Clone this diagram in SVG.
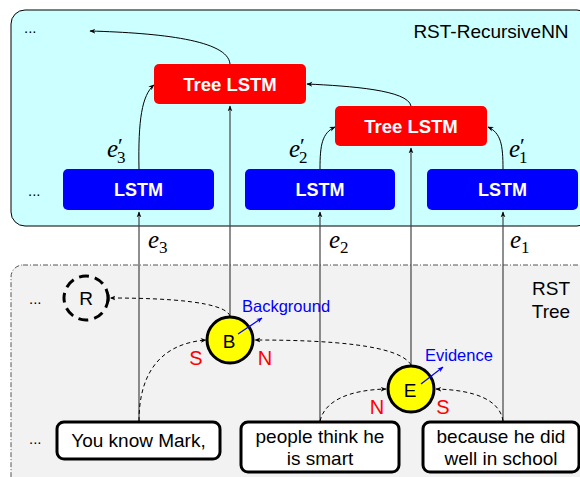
<svg xmlns="http://www.w3.org/2000/svg" width="580" height="477" viewBox="0 0 580 477">
<defs>
<marker id="ah" viewBox="0 0 10 10" refX="9" refY="5" markerWidth="6" markerHeight="6" orient="auto-start-reverse" markerUnits="userSpaceOnUse"><path d="M0,1 L10,5 L0,9 L3,5 Z" fill="#000"/></marker>
<marker id="ahb" viewBox="0 0 10 10" refX="9" refY="5" markerWidth="6" markerHeight="6" orient="auto" markerUnits="userSpaceOnUse"><path d="M0,1 L10,5 L0,9 L3,5 Z" fill="#0000ff"/></marker>
<marker id="aht" viewBox="0 0 10 12" refX="9" refY="6" markerWidth="6" markerHeight="8" orient="auto" markerUnits="userSpaceOnUse"><path d="M0,2 L9,6 L0,10 L3,6 Z M9,0 L10,0 L10,12 L9,12 Z" fill="#000"/></marker>
</defs>
<style>
.lstm{fill:#0000ff}
.tree{fill:#ff0000}
.wt{fill:#fff;font-family:"Liberation Sans",Arial,sans-serif;font-weight:bold;font-size:18px;text-anchor:middle}
.wt2{fill:#fff;font-family:"Liberation Sans",Arial,sans-serif;font-weight:bold;font-size:18.5px;text-anchor:middle}
.lbl{font-family:"Liberation Sans",Arial,sans-serif;font-size:19px;fill:#000;text-anchor:middle}
.edu{fill:#fff;stroke:#000;stroke-width:3}
.conn{fill:none;stroke:#000;stroke-width:1}
.vl{fill:none;stroke:#444;stroke-width:1.2}
.dash{fill:none;stroke:#000;stroke-width:1;stroke-dasharray:4,3}
.math{font-family:"Liberation Serif","DejaVu Serif",serif;font-style:italic;font-size:25px;fill:#000}
.sub{font-style:normal;font-size:17px}
.pr{font-style:normal;font-size:22px}
.red{font-family:"Liberation Sans",Arial,sans-serif;font-size:20px;fill:#ff0000;text-anchor:middle}
.blue{font-family:"Liberation Sans",Arial,sans-serif;font-size:16.5px;fill:#0000ff}
.dots{font-family:"Liberation Sans",Arial,sans-serif;font-size:15px;fill:#000}
</style>

<g id="panel-rnn">
<rect x="11" y="10" width="580" height="216" rx="14" fill="#ccffff" stroke="#000" stroke-width="1"/>
<text x="491" y="38" class="lbl">RST-RecursiveNN</text>
<text x="24" y="33" class="dots">...</text>
<text x="28" y="196" class="dots">...</text>
</g>

<g id="panel-rst">
<rect x="11" y="265" width="590" height="240" rx="12" fill="#f2f2f2" stroke="#555" stroke-width="1" stroke-dasharray="5,2,1,2"/>
<text x="551" y="295" class="lbl">RST</text>
<text x="551" y="318" class="lbl">Tree</text>
<text x="29" y="304" class="dots">...</text>
<text x="29" y="444" class="dots">...</text>
</g>

<g id="connectors">
<path class="vl" d="M139,422 V212" marker-end="url(#ah)"/>
<path class="vl" d="M320,422 V212" marker-end="url(#ah)"/>
<path class="vl" d="M503,422 V212" marker-end="url(#ah)"/>
<path class="vl" d="M230,316 V106" marker-end="url(#ah)"/>
<path class="vl" d="M411,365 V148" marker-end="url(#ah)"/>
<path class="conn" d="M139,169 C138,120 142,95 154,85" marker-end="url(#ah)"/>
<path class="conn" d="M320,169 C320,145 322,133 335,127" marker-end="url(#ah)"/>
<path class="conn" d="M503,169 C503,145 501,133 488,127" marker-end="url(#ah)"/>
<path class="conn" d="M230,64 C228,40 160,33 90,31" marker-end="url(#ah)"/>
<path class="conn" d="M411,106 C408,90 350,86 307,84" marker-end="url(#ah)"/>
<path class="dash" d="M230,316 C225,302 170,298 110,298" marker-end="url(#aht)"/>
<path class="dash" d="M411,365 C400,345 330,340 255,340" marker-end="url(#ah)"/>
<path class="dash" d="M139,421 C139,380 155,344 206,340" marker-end="url(#ah)"/>
<path class="dash" d="M320,421 C325,400 350,390 386,389" marker-end="url(#ah)"/>
<path class="dash" d="M503,421 C500,400 475,390 436,389" marker-end="url(#ah)"/>
<text x="107" y="157" class="math">e<tspan class="pr" dx="0" dy="-4">′</tspan><tspan class="sub" dx="-6" dy="10">3</tspan></text>
<text x="289" y="157" class="math">e<tspan class="pr" dx="0" dy="-4">′</tspan><tspan class="sub" dx="-6" dy="10">2</tspan></text>
<text x="509" y="157" class="math">e<tspan class="pr" dx="0" dy="-4">′</tspan><tspan class="sub" dx="-6" dy="10">1</tspan></text>
<text x="148" y="248" class="math">e<tspan class="sub" dy="5">3</tspan></text>
<text x="329" y="248" class="math">e<tspan class="sub" dy="5">2</tspan></text>
<text x="510" y="248" class="math">e<tspan class="sub" dy="5">1</tspan></text>
</g>

<g id="lstm1"><rect x="63" y="169" width="151" height="41" rx="5" class="lstm"/><text x="138.5" y="196" class="wt">LSTM</text></g>
<g id="lstm2"><rect x="245" y="169" width="150" height="41" rx="5" class="lstm"/><text x="320" y="196" class="wt">LSTM</text></g>
<g id="lstm3"><rect x="427" y="169" width="151" height="41" rx="5" class="lstm"/><text x="502.5" y="196" class="wt">LSTM</text></g>
<g id="treelstm1"><rect x="154" y="64" width="152" height="40" rx="5" class="tree"/><text x="230" y="91" class="wt2">Tree LSTM</text></g>
<g id="treelstm2"><rect x="335" y="106" width="152" height="40" rx="5" class="tree"/><text x="411" y="133" class="wt2">Tree LSTM</text></g>

<g id="nodeR">
<circle cx="86" cy="298" r="22" fill="none" stroke="#000" stroke-width="3" stroke-dasharray="10,6"/>
<text x="86" y="305" class="lbl">R</text>
</g>
<g id="nodeB">
<circle cx="230" cy="340" r="23" fill="#ffff00" stroke="#000" stroke-width="3"/>
<text x="229" y="348" class="lbl" font-size="21">B</text>
<path d="M238,334 L262,318" stroke="#0000ff" stroke-width="1.2" marker-end="url(#ahb)"/>
<text x="242" y="312" class="blue">Background</text>
<text x="196" y="365" class="red">S</text>
<text x="265" y="365" class="red">N</text>
</g>
<g id="nodeE">
<circle cx="411" cy="389" r="23" fill="#ffff00" stroke="#000" stroke-width="3"/>
<text x="410" y="397" class="lbl" font-size="21">E</text>
<path d="M421,384 L443,367" stroke="#0000ff" stroke-width="1.2" marker-end="url(#ahb)"/>
<text x="425" y="361" class="blue">Evidence</text>
<text x="377" y="414" class="red">N</text>
<text x="443" y="414" class="red">S</text>
</g>

<g id="edu1"><rect x="57" y="422" width="163" height="37" rx="7" class="edu"/><text x="138.5" y="447" class="lbl">You know Mark,</text></g>
<g id="edu2"><rect x="241" y="422" width="158" height="50" rx="7" class="edu"/><text x="320" y="443" class="lbl">people think he</text><text x="320" y="465" class="lbl">is smart</text></g>
<g id="edu3"><rect x="423" y="422" width="156" height="50" rx="7" class="edu"/><text x="501" y="443" class="lbl">because he did</text><text x="501" y="465" class="lbl">well in school</text></g>
</svg>
